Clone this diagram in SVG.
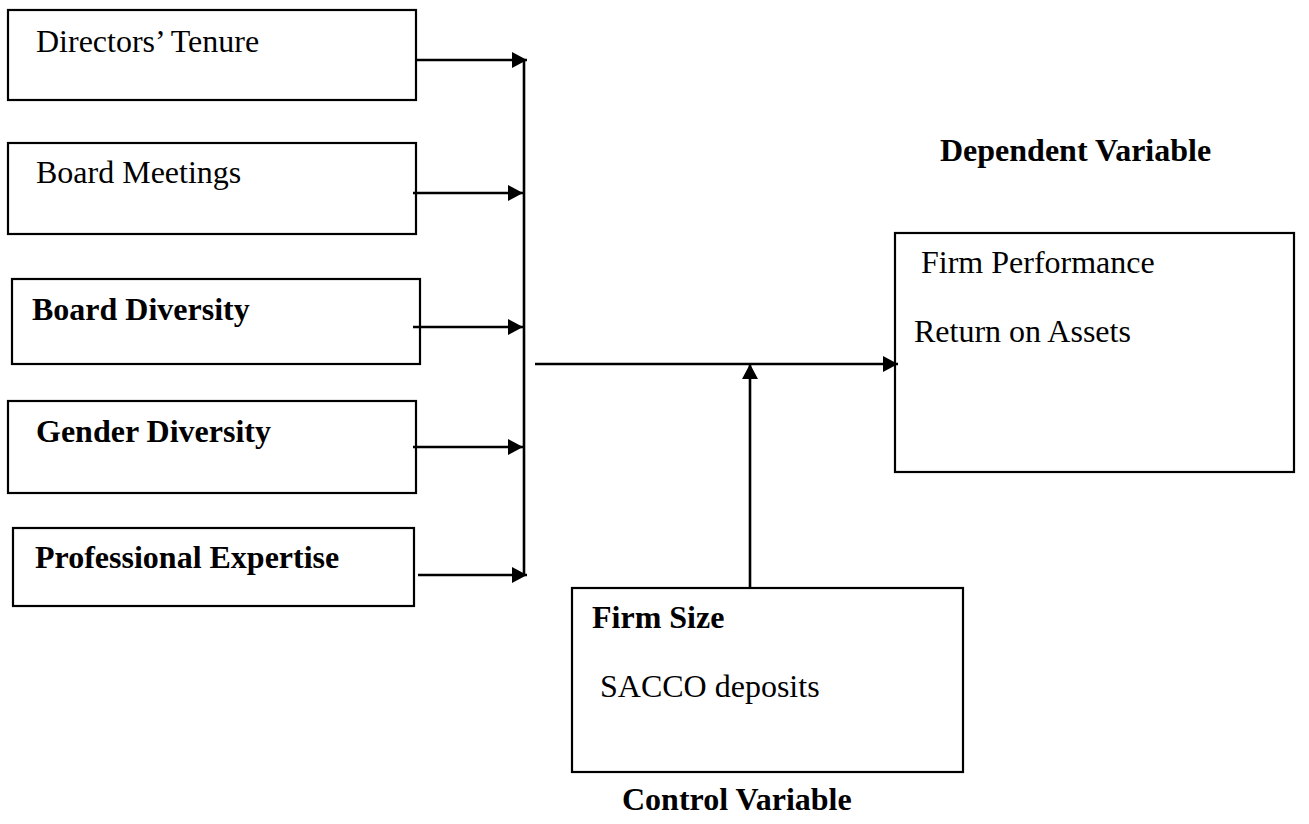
<svg xmlns="http://www.w3.org/2000/svg" width="1309" height="824" viewBox="0 0 1309 824">
<style>
.box{fill:#fff;stroke:#000;stroke-width:2.2}
.t{font-family:"Liberation Serif","Times New Roman",serif;font-size:32px;fill:#000}
.b{font-weight:bold}
.c{fill:none;stroke:#000;stroke-width:2.6}
</style>
<defs>
<marker id="ah" markerUnits="userSpaceOnUse" markerWidth="16" markerHeight="18" refX="15" refY="8" orient="auto">
<path d="M0,0 L15,8 L0,16 Z" fill="#000"/>
</marker>
</defs>
<rect width="1309" height="824" fill="#fff"/>
<g id="directors-tenure"><rect class="box" x="8" y="10" width="408" height="90"/><text class="t" x="36" y="52">Directors’ Tenure</text></g>
<g id="board-meetings"><rect class="box" x="8" y="143" width="408" height="91"/><text class="t" x="36" y="183">Board Meetings</text></g>
<g id="board-diversity"><rect class="box" x="12" y="279" width="408" height="85"/><text class="t b" x="32" y="320">Board Diversity</text></g>
<g id="gender-diversity"><rect class="box" x="8" y="401" width="408" height="92"/><text class="t b" x="36" y="442">Gender Diversity</text></g>
<g id="professional-expertise"><rect class="box" x="13" y="528" width="401" height="78"/><text class="t b" x="35" y="568">Professional Expertise</text></g>
<g id="dependent-label"><text class="t b" x="940" y="161">Dependent Variable</text></g>
<g id="firm-performance"><rect class="box" x="895" y="233" width="399" height="239"/><text class="t" x="921" y="273">Firm Performance</text><text class="t" x="914" y="342">Return on Assets</text></g>
<g id="firm-size"><rect class="box" x="572" y="588" width="391" height="184"/><text class="t b" x="592" y="628">Firm Size</text><text class="t" x="600" y="697">SACCO deposits</text></g>
<g id="control-label"><text class="t b" x="622" y="810">Control Variable</text></g>
<g id="connectors">
<line class="c" x1="416" y1="60" x2="527" y2="60" marker-end="url(#ah)"/>
<line class="c" x1="413" y1="193" x2="523" y2="193" marker-end="url(#ah)"/>
<line class="c" x1="413" y1="327" x2="523" y2="327" marker-end="url(#ah)"/>
<line class="c" x1="413" y1="447" x2="523" y2="447" marker-end="url(#ah)"/>
<line class="c" x1="418" y1="575" x2="527" y2="575" marker-end="url(#ah)"/>
<line class="c" x1="524" y1="60" x2="524" y2="576"/>
<line class="c" x1="535" y1="364" x2="898" y2="364" marker-end="url(#ah)"/>
<line class="c" x1="750" y1="588" x2="750" y2="364" marker-end="url(#ah)"/>
</g>
</svg>
